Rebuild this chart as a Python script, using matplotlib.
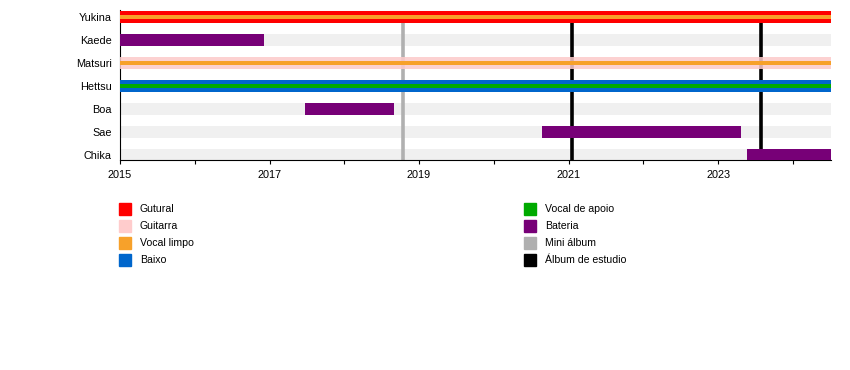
import matplotlib.pyplot as plt
from matplotlib.patches import Rectangle

plt.rcParams['font.family'] = ['Liberation Sans', 'DejaVu Sans']

# --- data ---
members = ["Yukina", "Kaede", "Matsuri", "Hettsu", "Boa", "Sae", "Chika"]
start_year = 2015.0
end_year = 2024.51

# (member, start, end, main colour, stripe colour or None)
stints = [
    ("Yukina", 2015.0, 2024.51, "gutural", "vocal"),
    ("Kaede", 2015.0, 2016.92, "bateria", None),
    ("Matsuri", 2015.0, 2024.51, "guitarra", "vocal"),
    ("Hettsu", 2015.0, 2024.51, "baixo", "apoio"),
    ("Boa", 2017.48, 2018.67, "bateria", None),
    ("Sae", 2020.65, 2023.30, "bateria", None),
    ("Chika", 2023.38, 2024.51, "bateria", None),
]

mini_albums = [2018.78]
studio_albums = [2021.04, 2023.57]

year_ticks = [2015, 2017, 2019, 2021, 2023]
minor_ticks = [2016, 2018, 2020, 2022, 2024]

colors = {
    "gutural": "#ff0000",
    "guitarra": "#ffcccc",
    "vocal": "#f7a12a",
    "baixo": "#0066cc",
    "apoio": "#00aa00",
    "bateria": "#770077",
    "mini": "#b0b0b0",
    "studio": "#000000",
}

legend_left = [("gutural", "Gutural"), ("guitarra", "Guitarra"),
               ("vocal", "Vocal limpo"), ("baixo", "Baixo")]
legend_right = [("apoio", "Vocal de apoio"), ("bateria", "Bateria"),
                ("mini", "Mini álbum"), ("studio", "Álbum de estudio")]

# --- figure ---
W, H = 850, 370
fig = plt.figure(figsize=(W / 100, H / 100), dpi=100)
ax = fig.add_axes([120 / W, 1 - 160 / H, 711 / W, 150 / H])

row = {m: i for i, m in enumerate(members)}
bar_h = 0.54
stripe_h = 0.18

# background bars
ax.barh(range(len(members)), end_year - start_year, left=start_year,
        height=bar_h, color="#f0f0f0", zorder=1)

# album lines
for x in mini_albums:
    ax.vlines(x, 0, 6.25, color=colors["mini"], lw=2.6, zorder=2)
for x in studio_albums:
    ax.vlines(x, 0, 6.25, color=colors["studio"], lw=2.6, zorder=2)

for name, s, e, main, stripe in stints:
    y = row[name]
    ax.barh(y, e - s, left=s, height=bar_h, color=colors[main], zorder=3,
            alpha=0.85 if main == "guitarra" else 1)
    if stripe:
        ax.barh(y, e - s, left=s, height=stripe_h, color=colors[stripe], zorder=4)

ax.set_xlim(start_year, end_year)
ax.set_ylim(6.22, -0.3)
ax.set_yticks(range(len(members)))
ax.set_yticklabels(members, fontsize=7.8)
ax.tick_params(axis="y", length=0, pad=6)
ax.set_xticks(year_ticks)
ax.set_xticklabels([str(y) for y in year_ticks], fontsize=7.8)
ax.set_xticks(minor_ticks, minor=True)
ax.tick_params(axis="x", which="both", length=3, width=0.8, direction="out", pad=4)
for sp in ["top", "right"]:
    ax.spines[sp].set_visible(False)
ax.spines["left"].set_linewidth(0.8)
ax.spines["bottom"].set_linewidth(0.8)

# --- legend ---
def legend_col(items, x_sq, x_txt):
    for i, (key, label) in enumerate(items):
        yc = 208.5 + i * 17.2
        fig.add_artist(Rectangle((x_sq / W, 1 - (yc + 6) / H), 12 / W, 12 / H,
                                 transform=fig.transFigure, color=colors[key]))
        fig.text(x_txt / W, 1 - yc / H, label, fontsize=7.6, va="center", ha="left")

legend_col(legend_left, 118.5, 140)
legend_col(legend_right, 523.5, 545)

fig.savefig("out.png", dpi=100)
